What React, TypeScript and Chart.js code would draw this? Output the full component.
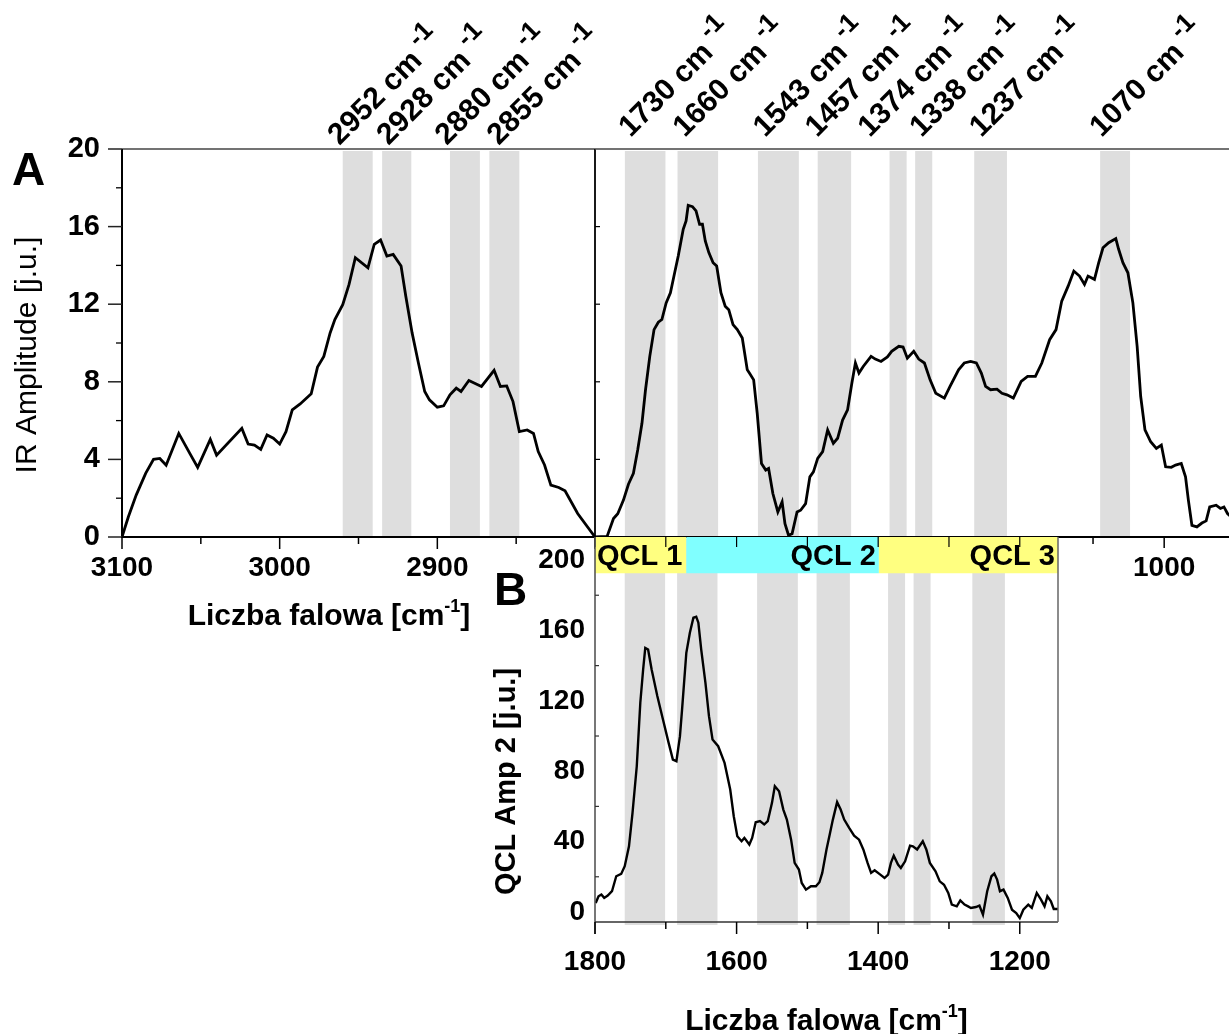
import React, { useEffect, useRef } from 'react';
import { Chart, registerables } from 'chart.js';

Chart.register(...registerables);

const FONT = '"Liberation Sans", Arial, Helvetica, sans-serif';
const BAND = '#dedede';

// ---------------- data ----------------
const irHighWavenumber = [3100, 3096, 3091, 3085, 3080, 3076, 3072, 3064, 3057, 3052, 3044, 3040, 3024, 3020, 3016, 3012, 3008, 3004, 3000, 2996, 2992, 2987, 2980, 2976, 2972, 2968, 2965, 2960, 2956, 2952, 2944, 2940, 2936, 2932, 2928, 2923, 2920, 2916, 2912, 2908, 2905, 2900, 2896, 2892, 2888, 2885, 2880, 2872, 2864, 2860, 2856, 2852, 2848, 2843, 2839, 2836, 2832, 2828, 2823, 2819, 2811, 2800];
const irHighAmplitude = [0, 1.03, 2.16, 3.28, 4.0, 4.05, 3.7, 5.34, 4.31, 3.59, 5.03, 4.22, 5.6, 4.79, 4.74, 4.52, 5.26, 5.09, 4.79, 5.43, 6.55, 6.86, 7.38, 8.76, 9.31, 10.52, 11.21, 11.98, 13.02, 14.4, 13.88, 15.09, 15.31, 14.48, 14.57, 13.97, 12.41, 10.52, 8.97, 7.5, 7.07, 6.69, 6.76, 7.33, 7.67, 7.5, 8.07, 7.76, 8.59, 7.76, 7.79, 6.98, 5.43, 5.52, 5.34, 4.4, 3.71, 2.67, 2.55, 2.38, 1.21, 0];

const irLowWavenumber = [1800, 1783, 1774, 1768, 1760, 1753, 1746, 1740, 1734, 1729, 1723, 1717, 1711, 1706, 1700, 1694, 1689, 1683, 1676, 1672, 1669, 1663, 1658, 1653, 1649, 1645, 1640, 1634, 1629, 1623, 1617, 1612, 1606, 1600, 1593, 1586, 1583, 1577, 1572, 1566, 1560, 1556, 1550, 1543, 1537, 1533, 1528, 1523, 1516, 1511, 1504, 1498, 1493, 1487, 1480, 1473, 1465, 1459, 1452, 1445, 1439, 1434, 1429, 1423, 1412, 1406, 1398, 1389, 1383, 1373, 1367, 1361, 1352, 1345, 1337, 1329, 1321, 1309, 1301, 1289, 1281, 1272, 1264, 1257, 1251, 1244, 1235, 1228, 1221, 1212, 1201, 1192, 1181, 1172, 1161, 1152, 1144, 1135, 1127, 1119, 1112, 1107, 1098, 1092, 1086, 1078, 1068, 1064, 1058, 1051, 1044, 1038, 1033, 1027, 1019, 1011, 1004, 998, 990, 984, 976, 970, 966, 961, 954, 947, 941, 936, 927, 921, 916, 911, 905];
const irLowAmplitude = [0, 0.03, 0.95, 1.2, 1.9, 2.72, 3.28, 4.48, 5.86, 7.59, 9.31, 10.69, 11.07, 11.21, 12.07, 12.59, 13.45, 14.48, 15.86, 16.29, 17.1, 17.03, 16.81, 16.12, 16.12, 15.26, 14.66, 14.14, 13.97, 12.59, 11.9, 11.72, 10.95, 10.69, 10.26, 8.62, 8.45, 8.1, 6.38, 3.79, 3.45, 3.53, 2.24, 1.29, 1.81, 0.69, 0.09, 0.17, 1.29, 1.38, 1.72, 3.1, 3.36, 4.05, 4.4, 5.52, 4.83, 5.09, 6.03, 6.55, 7.93, 8.97, 8.45, 8.79, 9.31, 9.17, 9.05, 9.28, 9.57, 9.83, 9.79, 9.22, 9.57, 9.17, 8.97, 8.1, 7.41, 7.16, 7.76, 8.62, 8.97, 9.05, 8.97, 8.45, 7.76, 7.59, 7.62, 7.41, 7.33, 7.16, 8.02, 8.28, 8.28, 8.97, 10.17, 10.69, 12.16, 12.93, 13.71, 13.45, 13.02, 13.45, 13.28, 14.14, 14.91, 15.17, 15.38, 14.83, 14.14, 13.62, 12.07, 9.83, 7.24, 5.52, 4.91, 4.57, 4.74, 3.62, 3.59, 3.71, 3.79, 3.1, 1.9, 0.6, 0.52, 0.72, 0.83, 1.55, 1.64, 1.47, 1.55, 1.21, 1.0];

const qclWavenumber = [1799, 1795, 1791, 1787, 1782, 1776, 1770, 1763, 1758, 1752, 1747, 1741, 1736, 1732, 1729, 1725, 1720, 1712, 1704, 1696, 1690, 1685, 1680, 1677, 1671, 1666, 1661, 1657, 1654, 1650, 1644, 1639, 1634, 1626, 1617, 1609, 1604, 1599, 1593, 1589, 1582, 1578, 1573, 1567, 1561, 1556, 1550, 1546, 1540, 1534, 1529, 1523, 1518, 1512, 1508, 1502, 1495, 1488, 1483, 1479, 1473, 1468, 1464, 1458, 1453, 1448, 1441, 1434, 1427, 1421, 1415, 1410, 1405, 1397, 1391, 1386, 1382, 1378, 1372, 1368, 1362, 1355, 1351, 1345, 1337, 1332, 1327, 1319, 1313, 1307, 1301, 1296, 1289, 1284, 1278, 1273, 1269, 1262, 1257, 1252, 1246, 1240, 1236, 1232, 1228, 1223, 1217, 1211, 1205, 1200, 1195, 1188, 1183, 1176, 1170, 1165, 1161, 1156, 1152, 1146];
const qclAmplitude = [5.1, 8.9, 9.9, 8.0, 9.3, 11.8, 20.3, 21.6, 26.0, 37.3, 56.3, 82.8, 118.9, 137.8, 150.1, 149.2, 137.8, 122.7, 109.4, 96.1, 86.6, 85.7, 99.9, 115.1, 147.3, 158.7, 167.2, 167.8, 164.4, 149.2, 130.2, 111.3, 98.0, 94.2, 84.7, 69.6, 54.4, 43.0, 40.2, 42.1, 38.3, 42.1, 51.0, 51.6, 49.7, 51.6, 62.0, 71.5, 68.6, 58.2, 52.5, 41.1, 27.9, 24.1, 16.5, 12.7, 14.6, 14.6, 16.9, 22.2, 35.5, 44.9, 52.5, 62.4, 58.2, 52.5, 47.8, 43.4, 41.1, 35.5, 27.9, 22.2, 23.7, 21.2, 19.3, 21.2, 27.9, 32.0, 26.9, 25.0, 28.8, 37.7, 37.3, 35.5, 40.2, 35.5, 27.9, 23.1, 17.4, 15.5, 10.8, 4.2, 3.2, 6.6, 4.2, 3.2, 2.3, 2.8, 3.6, -1.5, 11.8, 20.3, 21.8, 18.4, 11.8, 12.7, 8.0, 1.3, -0.6, -3.5, 1.3, 4.2, 2.3, 10.8, 7.0, 3.2, 8.9, 6.1, 1.7, 1.7];

// highlighted absorption bands (start / end wavenumber) and their labels
const highBandStart = [2960, 2935, 2892, 2867];
const highBandEnd = [2941, 2916.5, 2873, 2848];
const highBandLabels = ['2952', '2928', '2880', '2855'];
const highLabelAt = [2962, 2931, 2894, 2861];

const lowBandStart = [1758, 1684, 1571, 1487, 1386, 1350, 1267, 1090];
const lowBandEnd = [1701, 1627, 1513.5, 1440, 1362, 1326, 1221, 1048];
const lowBandLabels = ['1730', '1660', '1543', '1457', '1374', '1338', '1237', '1070'];
const lowLabelAt = [1750, 1674, 1561, 1488, 1414, 1341, 1257, 1088];

const qclNames = ['QCL 1', 'QCL 2', 'QCL 3'];
const qclStart = [1800, 1671, 1399];
const qclEnd = [1671, 1399, 1146];

const highTickLabels = [3100, 3000, 2900];
const lowTickLabelsTop = [1000];
const lowTickLabelsBottom = [1800, 1600, 1400, 1200];
const irTickLabels = [0, 4, 8, 12, 16, 20];
const qclTickLabels = [0, 40, 80, 120, 160, 200];
const qclTickValues = [0, 20, 40, 60, 80, 100, 120, 140, 160, 180, 200];

// ---------------- helpers ----------------
const pts = (xs: number[], ys: number[]) => xs.map((x, i) => ({ x, y: ys[i] }));

function seg(ctx: CanvasRenderingContext2D, x1: number, y1: number, x2: number, y2: number, w: number, c = '#000') {
  ctx.beginPath();
  ctx.lineWidth = w;
  ctx.strokeStyle = c;
  ctx.moveTo(x1, y1);
  ctx.lineTo(x2, y2);
  ctx.stroke();
}

function supText(ctx: CanvasRenderingContext2D, x: number, y: number, base: string, sup: string, tail: string, size: number) {
  const f1 = `bold ${size}px ${FONT}`;
  const f2 = `bold ${Math.round(size * 0.6)}px ${FONT}`;
  ctx.font = f1;
  const wb = ctx.measureText(base).width;
  const wt = ctx.measureText(tail).width;
  ctx.font = f2;
  const ws = ctx.measureText(sup).width;
  const x0 = x - (wb + ws + wt) / 2;
  ctx.textAlign = 'left';
  ctx.textBaseline = 'alphabetic';
  ctx.fillStyle = '#000';
  ctx.font = f1;
  ctx.fillText(base, x0, y);
  ctx.font = f2;
  ctx.fillText(sup, x0 + wb, y - size * 0.42);
  ctx.font = f1;
  ctx.fillText(tail, x0 + wb + ws, y);
}

function peakLabels(chart: any, at: number[], labels: string[], lift: number) {
  const { ctx, chartArea: a, scales: { x } } = chart;
  labels.forEach((lab, i) => {
    const px = x.getPixelForValue(at[i]);
    const py = a.top - lift;
    ctx.save();
    ctx.translate(px, py);
    ctx.rotate(-Math.PI / 4);
    ctx.fillStyle = '#000';
    ctx.textAlign = 'left';
    ctx.textBaseline = 'alphabetic';
    ctx.font = `bold 30px ${FONT}`;
    const main = lab + ' cm';
    ctx.fillText(main, 0, 0);
    const w = ctx.measureText(main + ' ').width;
    ctx.font = `bold 26px ${FONT}`;
    ctx.fillText('-1', w - 2, -14);
    ctx.restore();
  });
}

function bands(chart: any, starts: number[], ends: number[], extraBottom: number) {
  const { ctx, chartArea: a, scales: { x } } = chart;
  ctx.save();
  ctx.fillStyle = BAND;
  starts.forEach((s, i) => {
    const x0 = x.getPixelForValue(s);
    const x1 = x.getPixelForValue(ends[i]);
    ctx.fillRect(Math.min(x0, x1), a.top + 2, Math.abs(x1 - x0), a.bottom - a.top - 3 + extraBottom);
  });
  ctx.restore();
}

const tickFont = { family: FONT, size: 28, weight: 'bold' as const };
const hideGrid = { display: false, drawTicks: false };
const noBorder = { display: false };

const fitHeight = (h: number) => (s: any) => {
  s.height = h;
  s.paddingLeft = 0;
  s.paddingRight = 0;
};
const fitWidth = (w: number) => (s: any) => {
  s.width = w;
  s.paddingTop = 0;
  s.paddingBottom = 0;
};

function lineDataset(xs: number[], ys: number[], w: number) {
  return {
    data: pts(xs, ys),
    borderColor: '#000',
    borderWidth: w,
    pointRadius: 0,
    fill: false,
    tension: 0,
  };
}

// ---------------- chart configs ----------------
function cfgHigh(): any {
  const decor = {
    id: 'decorHigh',
    beforeDatasetsDraw(chart: any) {
      bands(chart, highBandStart, highBandEnd, 0);
    },
    afterDraw(chart: any) {
      const { ctx, chartArea: a, scales: { x, y } } = chart;
      ctx.save();
      seg(ctx, a.left, a.top, a.right, a.top, 1.5, '#444');
      seg(ctx, a.left, a.top, a.left, a.bottom + 1, 2);
      seg(ctx, a.left - 1, a.bottom, a.right, a.bottom, 2);
      seg(ctx, a.right, a.top, a.right, a.bottom, 1.8);
      y.ticks.forEach((t: any) => {
        const py = y.getPixelForValue(t.value);
        const major = irTickLabels.includes(Math.round(t.value));
        seg(ctx, a.left - (major ? 14 : 6), py, a.left, py, major ? 1.5 : 1.3, major ? '#222' : '#000');
        if (major && t.value > 0 && t.value < 20) seg(ctx, a.right, py, a.right + 5, py, 1.2);
      });
      x.ticks.forEach((t: any) => {
        const px = x.getPixelForValue(t.value);
        const major = Math.round(t.value) % 100 === 0;
        seg(ctx, px, a.bottom, px, a.bottom + (major ? 12 : 7), 1.5);
      });
      ctx.fillStyle = '#000';
      ctx.font = `bold 46px ${FONT}`;
      ctx.textAlign = 'left';
      ctx.textBaseline = 'alphabetic';
      ctx.fillText('A', 12, 185);
      ctx.save();
      ctx.translate(a.left - 86, 355);
      ctx.rotate(-Math.PI / 2);
      ctx.font = `30px ${FONT}`;
      ctx.textAlign = 'center';
      ctx.fillText('IR Amplitude [j.u.]', 0, 0);
      ctx.restore();
      supText(ctx, a.left + 207, a.bottom + 88, 'Liczba falowa [cm', '-1', ']', 30);
      peakLabels(chart, highLabelAt, highBandLabels, 3);
      ctx.restore();
    },
  };
  return {
    type: 'line',
    data: { datasets: [lineDataset(irHighWavenumber, irHighAmplitude, 2.8)] },
    options: {
      responsive: false,
      animation: false,
      layout: { padding: { top: 149, right: 45, left: 0, bottom: 63 } },
      plugins: { legend: { display: false }, tooltip: { enabled: false } },
      scales: {
        x: {
          type: 'linear', reverse: true, min: 2800, max: 3100,
          grid: hideGrid, border: noBorder,
          ticks: {
            stepSize: 50, includeBounds: false, autoSkip: false, maxRotation: 0, color: '#000', font: tickFont, padding: 14,
            callback: (v: number) => (highTickLabels.includes(Math.round(v)) ? String(Math.round(v)) : ''),
          },
          afterFit: fitHeight(60),
        },
        y: {
          min: 0, max: 20,
          grid: hideGrid, border: noBorder,
          ticks: {
            stepSize: 2, includeBounds: false, autoSkip: false, color: '#000', font: { ...tickFont, size: 29 }, padding: 22,
            callback: (v: number) => (irTickLabels.includes(Math.round(v)) ? String(Math.round(v)) : ''),
          },
          afterFit: fitWidth(122),
        },
      },
    },
    plugins: [decor],
  };
}

function cfgLow(): any {
  const decor = {
    id: 'decorLow',
    beforeDatasetsDraw(chart: any) {
      bands(chart, lowBandStart, lowBandEnd, 0);
    },
    afterDraw(chart: any) {
      const { ctx, chartArea: a, scales: { x } } = chart;
      ctx.save();
      seg(ctx, a.left, a.top, a.right, a.top, 1.5, '#444');
      seg(ctx, a.left, a.bottom, a.right, a.bottom, 2);
      x.ticks.forEach((t: any) => {
        const px = x.getPixelForValue(t.value);
        const major = Math.round(t.value) % 200 === 0;
        seg(ctx, px, a.bottom, px, a.bottom + (major ? 11 : 7), 1.5);
      });
      peakLabels(chart, lowLabelAt, lowBandLabels, 11);
      ctx.restore();
    },
  };
  return {
    type: 'line',
    data: { datasets: [lineDataset(irLowWavenumber, irLowAmplitude, 2.8)] },
    options: {
      responsive: false,
      animation: false,
      layout: { padding: { top: 149, right: 14, left: 35, bottom: 63 } },
      plugins: { legend: { display: false }, tooltip: { enabled: false } },
      scales: {
        x: {
          type: 'linear', reverse: true, min: 885, max: 1800,
          grid: hideGrid, border: noBorder,
          ticks: {
            stepSize: 100, includeBounds: false, autoSkip: false, maxRotation: 0, color: '#000', font: tickFont, padding: 14,
            callback: (v: number) => (lowTickLabelsTop.includes(Math.round(v)) ? String(Math.round(v)) : ''),
          },
          afterFit: fitHeight(60),
        },
        y: { display: false, min: 0, max: 20 },
      },
    },
    plugins: [decor],
  };
}

function cfgQcl(): any {
  const decor = {
    id: 'decorQcl',
    beforeDatasetsDraw(chart: any) {
      const { ctx, chartArea: a, scales: { x, y } } = chart;
      bands(chart, lowBandStart, lowBandEnd, 4);
      ctx.save();
      const yb = y.getPixelForValue(192.5);
      const colors = ['#ffff80', '#80ffff', '#ffff80'];
      qclNames.forEach((name, i) => {
        const x0 = x.getPixelForValue(qclStart[i]);
        const x1 = x.getPixelForValue(qclEnd[i]);
        ctx.fillStyle = colors[i % colors.length];
        ctx.fillRect(x0, a.top, x1 - x0, yb - a.top);
      });
      ctx.fillStyle = '#000';
      ctx.font = `bold 29px ${FONT}`;
      ctx.textBaseline = 'alphabetic';
      qclNames.forEach((name, i) => {
        const x0 = x.getPixelForValue(qclStart[i]);
        const x1 = x.getPixelForValue(qclEnd[i]);
        if (i === 0) {
          ctx.textAlign = 'left';
          ctx.fillText(name, x0 + 2, yb - 8);
        } else {
          ctx.textAlign = 'right';
          ctx.fillText(name, x1 - 3, yb - 8);
        }
      });
      x.ticks.forEach((t: any) => {
        const px = x.getPixelForValue(t.value);
        seg(ctx, px, a.top, px, a.top + 10, 1.2);
      });
      ctx.restore();
    },
    afterDraw(chart: any) {
      const { ctx, chartArea: a, scales: { x, y } } = chart;
      ctx.save();
      seg(ctx, a.left, a.top, a.left, a.bottom + 12, 1.6, '#555');
      seg(ctx, a.left, a.bottom, a.right, a.bottom, 1.6, '#333');
      seg(ctx, a.right, a.top, a.right, a.bottom, 1.5, '#666');
      y.ticks.forEach((t: any) => {
        const py = y.getPixelForValue(t.value);
        if (!qclTickLabels.includes(Math.round(t.value))) seg(ctx, a.left, py, a.left + 4, py, 1.2, '#333');
      });
      x.ticks.forEach((t: any) => {
        const px = x.getPixelForValue(t.value);
        const major = Math.round(t.value) % 200 === 0;
        seg(ctx, px, a.bottom, px, a.bottom + (major ? 12 : 7), 1.5);
      });
      ctx.fillStyle = '#000';
      ctx.font = `bold 46px ${FONT}`;
      ctx.textAlign = 'left';
      ctx.textBaseline = 'alphabetic';
      ctx.fillText('B', a.left - 101, a.top + 68);
      ctx.save();
      ctx.translate(a.left - 80, (a.top + a.bottom) / 2 + 52);
      ctx.rotate(-Math.PI / 2);
      ctx.font = `bold 29px ${FONT}`;
      ctx.textAlign = 'center';
      ctx.fillText('QCL Amp 2 [j.u.]', 0, 0);
      ctx.restore();
      supText(ctx, (a.left + a.right) / 2, a.bottom + 108, 'Liczba falowa [cm', '-1', ']', 30);
      ctx.restore();
    },
  };
  return {
    type: 'line',
    data: { datasets: [lineDataset(qclWavenumber, qclAmplitude, 2.4)] },
    options: {
      responsive: false,
      animation: false,
      layout: { padding: { top: 17, right: 22, left: 0, bottom: 52 } },
      plugins: { legend: { display: false }, tooltip: { enabled: false } },
      scales: {
        x: {
          type: 'linear', reverse: true, min: 1146, max: 1800,
          grid: hideGrid, border: noBorder,
          ticks: {
            stepSize: 100, includeBounds: false, autoSkip: false, maxRotation: 0, color: '#000', font: tickFont, padding: 23,
            callback: (v: number) => (lowTickLabelsBottom.includes(Math.round(v)) ? String(Math.round(v)) : ''),
          },
          afterFit: fitHeight(60),
        },
        y: {
          min: -5.7, max: 213.1,
          grid: hideGrid, border: noBorder,
          afterBuildTicks: (s: any) => { s.ticks = qclTickValues.map((v) => ({ value: v })); },
          ticks: {
            autoSkip: false, color: '#000', font: tickFont, padding: 10,
            callback: (v: number) => (qclTickLabels.includes(Math.round(v)) ? String(Math.round(v)) : ''),
          },
          afterFit: fitWidth(155),
        },
      },
    },
    plugins: [decor],
  };
}

export default function App() {
  const refHigh = useRef<HTMLCanvasElement>(null);
  const refLow = useRef<HTMLCanvasElement>(null);
  const refQcl = useRef<HTMLCanvasElement>(null);

  useEffect(() => {
    const charts = [
      new Chart(refHigh.current as HTMLCanvasElement, cfgHigh()),
      new Chart(refLow.current as HTMLCanvasElement, cfgLow()),
      new Chart(refQcl.current as HTMLCanvasElement, cfgQcl()),
    ];
    return () => charts.forEach((c) => c.destroy());
  }, []);

  return (
    <div style={{ position: 'fixed', left: 0, top: 0, width: 1229, height: 1034, overflow: 'hidden', background: '#fff' }}>
      <canvas ref={refHigh} width={640} height={660} style={{ position: 'absolute', left: 0, top: 0 }} />
      <canvas ref={refLow} width={700} height={660} style={{ position: 'absolute', left: 560, top: 0 }} />
      <canvas ref={refQcl} width={640} height={514} style={{ position: 'absolute', left: 440, top: 520 }} />
    </div>
  );
}
